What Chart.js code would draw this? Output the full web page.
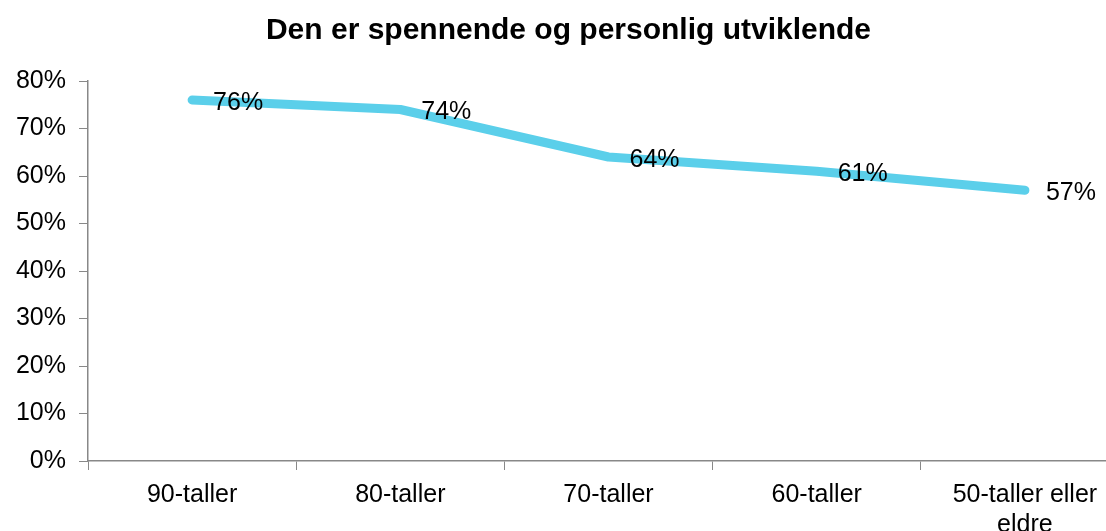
<!DOCTYPE html>
<html>
<head>
<meta charset="utf-8">
<script src="https://cdn.jsdelivr.net/npm/chart.js@4"></script>
<style>
  html, body { margin: 0; padding: 0; background: #fff; overflow: hidden; }
  #wrap { width: 1154px; height: 531px; position: relative; }
</style>
</head>
<body>
<div id="wrap"><canvas id="myChart"></canvas></div>
<script>
var categories = ['90-taller', '80-taller', '70-taller', '60-taller', ['50-taller eller', 'eldre']];
var values = [76, 74, 64, 61, 57];
var yTicks = [0, 10, 20, 30, 40, 50, 60, 70, 80];
var title = 'Den er spennende og personlig utviklende';

var fontFamily = '"Liberation Sans", Arial, sans-serif';

// labels to the right of each point
var pointLabels = {
  id: 'pointLabels',
  afterDatasetsDraw: function(chart) {
    var ctx = chart.ctx;
    var meta = chart.getDatasetMeta(0);
    ctx.save();
    ctx.font = '25px ' + fontFamily;
    ctx.fillStyle = '#000';
    ctx.textAlign = 'left';
    ctx.textBaseline = 'middle';
    meta.data.forEach(function(pt, i) {
      ctx.fillText(values[i] + '%', pt.x + 21, pt.y + 3);
    });
    ctx.restore();
  }
};

var ctx = document.getElementById('myChart').getContext('2d');

var data = {
  labels: categories,
  datasets: [{
    data: values,
    borderColor: '#5BCFEA',
    backgroundColor: '#5BCFEA',
    borderWidth: 9,
    borderCapStyle: 'round',
    borderJoinStyle: 'round',
    pointRadius: 0,
    tension: 0,
    fill: false
  }]
};

var options = {
  responsive: true,
  maintainAspectRatio: false,
  animation: false,
  layout: { padding: { left: 8, right: 25, top: 0, bottom: 0 } },
  plugins: {
    legend: { display: false },
    tooltip: { enabled: false },
    title: {
      display: true,
      text: title,
      color: '#000',
      font: { family: fontFamily, size: 30, weight: 'bold' },
      padding: { top: 13, bottom: 32 }
    }
  },
  scales: {
    x: {
      offset: true,
      grid: { display: true, offset: true, drawOnChartArea: false, drawTicks: true, tickLength: 9, color: '#888' },
      border: { display: true, color: '#888', width: 1.5 },
      ticks: { color: '#000', font: { family: fontFamily, size: 25 }, padding: 10, maxRotation: 0, autoSkip: false },
      afterFit: function(s) { s.height = 70; }
    },
    y: {
      min: 0,
      max: 80,
      afterBuildTicks: function(s) { s.ticks = yTicks.map(function(v) { return { value: v }; }); },
      grid: { display: true, drawOnChartArea: false, drawTicks: true, tickLength: 9, color: '#888' },
      border: { display: true, color: '#888', width: 1.5 },
      ticks: {
        color: '#000',
        font: { family: fontFamily, size: 25 },
        padding: 13,
        callback: function(v) { return v + '%'; }
      },
      afterFit: function(s) { s.width = 80; }
    }
  }
};

var myLineChart = new Chart(ctx, {
  type: 'line',
  data: data,
  options: options,
  plugins: [pointLabels]
});
</script>
</body>
</html>
